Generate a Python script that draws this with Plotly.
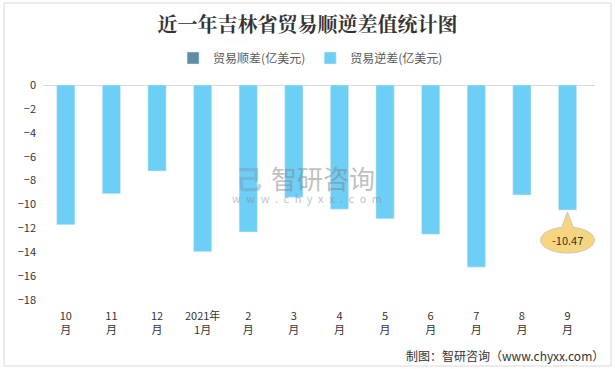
import plotly.graph_objects as go

categories = ["10月", "11月", "12月", "2021年1月", "2月", "3月", "4月", "5月", "6月", "7月", "8月", "9月"]
tick_labels = ["10<br>月", "11<br>月", "12<br>月", "2021年<br>1月", "2<br>月", "3<br>月", "4<br>月", "5<br>月", "6<br>月", "7<br>月", "8<br>月", "9<br>月"]
surplus = [None] * 12
deficit = [-11.7, -9.1, -7.2, -13.95, -12.3, -9.4, -10.4, -11.2, -12.5, -15.25, -9.2, -10.47]
y_ticks = [0, -2, -4, -6, -8, -10, -12, -14, -16, -18]

W, H = 615, 369
L, R, T, B = 43, 20, 85, 69
pw, ph = W - L - R, H - T - B

def px_x(p):
    return (p - L) / pw

def px_y(p):
    return (T + ph - p) / ph

fig = go.Figure()
fig.add_trace(go.Bar(x=categories, y=surplus, name="贸易顺差(亿美元)", marker_color="#5B8FA6"))
fig.add_trace(go.Bar(x=categories, y=deficit, name="贸易逆差(亿美元)", marker_color="#6DCFF6"))

font_cn = "Noto Sans CJK SC, Microsoft YaHei, sans-serif"

fig.update_layout(
    width=W, height=H,
    margin=dict(l=L, r=R, t=T, b=B, autoexpand=False),
    paper_bgcolor="white", plot_bgcolor="white",
    barmode="overlay", bargap=0.6,
    font=dict(family=font_cn, size=11, color="#333333"),
    title=dict(text="<b>近一年吉林省贸易顺逆差值统计图</b>", x=0.5, xanchor="center",
               y=1 - 25 / H, yanchor="middle",
               font=dict(family="Noto Serif CJK SC, Noto Sans CJK SC, serif", size=20, color="#333333")),
    legend=dict(orientation="h", xref="container", x=0.505, xanchor="center",
                yref="container", y=1 - 58 / H, yanchor="middle",
                font=dict(size=12, color="#595959"), traceorder="normal",
                bgcolor="rgba(0,0,0,0)"),
    showlegend=True,
)
fig.update_xaxes(type="category", tickvals=categories, ticktext=tick_labels, showgrid=False,
                 showline=False, ticks="", tickfont=dict(size=11, color="#333333"),
                 automargin=False, ticklabelstandoff=8)
fig.update_yaxes(range=[-18, 0], tickvals=y_ticks, showgrid=False, zeroline=True,
                 zerolinecolor="#D9D9D9", zerolinewidth=1, showline=False, ticks="",
                 tickfont=dict(size=11, color="#333333"), ticklabelstandoff=6, automargin=False)

# border around chart
fig.add_shape(type="rect", xref="paper", yref="paper", x0=px_x(4), x1=px_x(611), y0=px_y(366), y1=px_y(3),
              line=dict(color="#D9D9D9", width=1), fillcolor="rgba(0,0,0,0)", layer="below")

# callout bubble for last value
last_cat, last_val = categories[-1], deficit[-1]
k = 0.5523
cx, cy, rx, ry = 0, -30, 27, 13
ell = (f"M {cx+rx},{cy} C {cx+rx},{cy+k*ry} {cx+k*rx},{cy+ry} {cx},{cy+ry} "
       f"C {cx-k*rx},{cy+ry} {cx-rx},{cy+k*ry} {cx-rx},{cy} "
       f"C {cx-rx},{cy-k*ry} {cx-k*rx},{cy-ry} {cx},{cy-ry} "
       f"C {cx+k*rx},{cy-ry} {cx+rx},{cy-k*ry} {cx+rx},{cy} Z")
common = dict(xref="x", yref="y", xsizemode="pixel", ysizemode="pixel", xanchor=last_cat, yanchor=last_val)
fig.add_shape(type="path", path=ell, fillcolor="#F7D57E", line=dict(color="#C8C8C8", width=1), **common)
fig.add_shape(type="path", path="M -6,-19 L 0,-2 L 6,-19 Z", fillcolor="#F7D57E", line=dict(width=0), **common)
fig.add_shape(type="path", path="M -6,-17.6 L 0,-2 L 6,-17.6", fillcolor="rgba(0,0,0,0)",
              line=dict(color="#C8C8C8", width=1), **common)
fig.add_annotation(x=last_cat, y=last_val, yshift=-30, text=f"{last_val:.2f}", showarrow=False,
                   font=dict(size=11, color="#333333"))

# watermark
wm = "rgba(130,130,130,0.5)"
fig.add_annotation(xref="paper", yref="paper", x=px_x(323), y=px_y(177), text="智研咨询", showarrow=False,
                   font=dict(size=26, color=wm))
fig.add_annotation(xref="paper", yref="paper", x=px_x(307), y=px_y(198),
                   text="\u2002".join("www.chyxx.com"),
                   showarrow=False, font=dict(size=11, color=wm))
fig.add_annotation(xref="paper", yref="paper", x=px_x(249), y=px_y(177), text="<b>己</b>", showarrow=False,
                   font=dict(size=26, color="rgba(120,150,190,0.45)"))

# footer
fig.add_annotation(xref="paper", yref="paper", x=px_x(606), xanchor="right", y=px_y(355), yanchor="middle",
                   text="制图：智研咨询（www.chyxx.com）", showarrow=False,
                   font=dict(family="Noto Sans CJK SC, monospace", size=12, color="#333333"))

fig.write_html("out.html", config={"displayModeBar": False},
               post_script="document.body.style.margin='0';document.body.style.overflow='hidden';")
